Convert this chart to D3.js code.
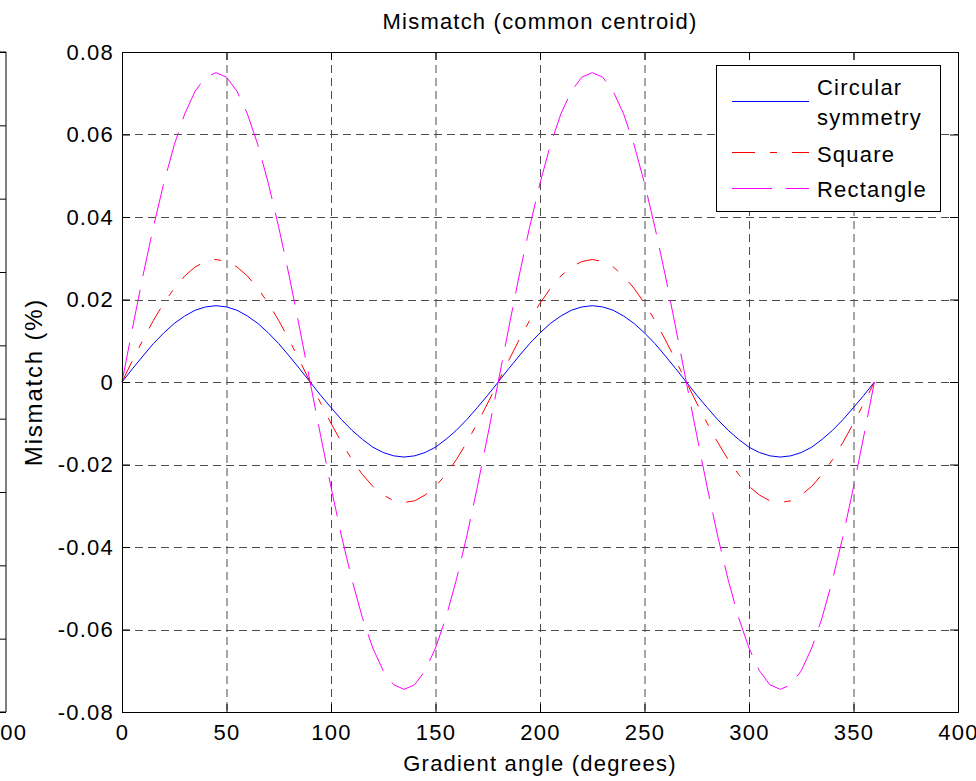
<!DOCTYPE html>
<html>
<head>
<meta charset="utf-8">
<script src="https://cdn.jsdelivr.net/npm/d3@7"></script>
<style>
  body { margin: 0; background: #fff; }
  svg { display: block; font-family: "Liberation Sans", Arial, sans-serif; }
  svg text { letter-spacing: 1.2px; }
</style>
</head>
<body>
<svg id="chart" width="976" height="781"></svg>
<script>
// gradient angle in degrees, every 5 degrees
var angles = d3.range(0, 361, 5);

// mismatch values
var circular = [
  0, .0032, .0063, .0093, .0119, .0142, .0160, .0174, .0182, .0185, .0182, .0174, .0160, .0142, .0119, .0093, .0063, .0032, 0,
  -.0032, -.0062, -.0091, -.0117, -.0139, -.0158, -.0171, -.0179, -.0182, -.0179, -.0171, -.0158, -.0139, -.0117, -.0091, -.0062, -.0032, 0,
  .0032, .0063, .0093, .0119, .0142, .0160, .0174, .0182, .0185, .0182, .0174, .0160, .0142, .0119, .0093, .0063, .0032, 0,
  -.0032, -.0062, -.0091, -.0117, -.0139, -.0158, -.0171, -.0179, -.0182, -.0179, -.0171, -.0158, -.0139, -.0117, -.0091, -.0062, -.0032, 0
];
var square = [
  0, .0052, .0102, .0149, .0191, .0227, .0257, .0279, .0292, .0297, .0292, .0279, .0257, .0227, .0191, .0149, .0102, .0052, 0,
  -.0051, -.0100, -.0146, -.0188, -.0224, -.0253, -.0274, -.0288, -.0292, -.0288, -.0274, -.0253, -.0224, -.0188, -.0146, -.0100, -.0051, 0,
  .0052, .0102, .0149, .0191, .0227, .0257, .0279, .0292, .0297, .0292, .0279, .0257, .0227, .0191, .0149, .0102, .0052, 0,
  -.0051, -.0100, -.0146, -.0188, -.0224, -.0253, -.0274, -.0288, -.0292, -.0288, -.0274, -.0253, -.0224, -.0188, -.0146, -.0100, -.0051, 0
];
var rectangle = [
  0, .0130, .0257, .0375, .0482, .0575, .0650, .0705, .0739, .0750, .0739, .0705, .0650, .0575, .0482, .0375, .0257, .0130, 0,
  -.0129, -.0255, -.0373, -.0479, -.0571, -.0645, -.0700, -.0734, -.0745, -.0734, -.0700, -.0645, -.0571, -.0479, -.0373, -.0255, -.0129, 0,
  .0130, .0257, .0375, .0482, .0575, .0650, .0705, .0739, .0750, .0739, .0705, .0650, .0575, .0482, .0375, .0257, .0130, 0,
  -.0129, -.0255, -.0373, -.0479, -.0571, -.0645, -.0700, -.0734, -.0745, -.0734, -.0700, -.0645, -.0571, -.0479, -.0373, -.0255, -.0129, 0
];

var seriesNames = ["Circular symmetry", "Square", "Rectangle"];
var xTicks = [0, 50, 100, 150, 200, 250, 300, 350, 400];
var yTicks = [-0.08, -0.06, -0.04, -0.02, 0, 0.02, 0.04, 0.06, 0.08];

var box = { left: 122, right: 958, top: 52, bottom: 712 };
var fontSize = 22;

var svg = d3.select("#chart");

var x = d3.scaleLinear().domain([0, 400]).range([box.left, box.right]);
var y = d3.scaleLinear().domain([-0.08, 0.08]).range([box.bottom, box.top]);

// piece of the neighbouring subplot at the left edge
var yLeft = d3.scaleLinear().domain([0, 9]).range([box.bottom, box.top]);
var leftAxis = svg.append("g")
  .attr("transform", "translate(6,0)")
  .call(d3.axisLeft(yLeft).tickValues(d3.range(10)).tickSize(8).tickFormat(""));
leftAxis.select(".domain").remove();
leftAxis.selectAll("line").attr("stroke", "#000");
svg.append("path")
  .attr("d", "M-2," + box.top + "H6V" + box.bottom + "H-2")
  .attr("fill", "none").attr("stroke", "#000");
svg.append("text")
  .attr("x", 7).attr("y", 740)
  .attr("text-anchor", "middle")
  .attr("font-size", fontSize)
  .text("400");

// grid
var grid = svg.append("g").attr("stroke", "#4d4d4d").attr("stroke-dasharray", "8,5");
grid.selectAll(".gx")
  .data(xTicks.slice(1, -1))
  .enter().append("line")
  .attr("x1", function (d) { return x(d) + 0.5; })
  .attr("x2", function (d) { return x(d) + 0.5; })
  .attr("y1", box.top).attr("y2", box.bottom);
grid.selectAll(".gy")
  .data(yTicks.slice(1, -1))
  .enter().append("line")
  .attr("y1", function (d) { return Math.round(y(d)) + 0.5; })
  .attr("y2", function (d) { return Math.round(y(d)) + 0.5; })
  .attr("x1", box.left).attr("x2", box.right);

// curves
var styles = [
  { data: circular, color: "#0000ff", dash: null },
  { data: square, color: "#ff0000", dash: "23,15,7,15" },
  { data: rectangle, color: "#ff00ff", dash: "40,14" }
];

var line = d3.line()
  .x(function (d, i) { return x(angles[i]); })
  .y(function (d) { return y(d); });

styles.forEach(function (s) {
  svg.append("path")
    .datum(s.data)
    .attr("d", line)
    .attr("fill", "none")
    .attr("stroke", s.color)
    .attr("stroke-width", 1)
    .attr("stroke-dasharray", s.dash);
});

// axes
function tidy(g) {
  g.select(".domain").remove();
  g.selectAll("line").attr("stroke", "#000");
  g.selectAll("text").attr("font-size", fontSize).attr("fill", "#000")
    .attr("font-family", "Liberation Sans, Arial, sans-serif");
}

svg.append("g")
  .attr("transform", "translate(0," + box.bottom + ")")
  .call(d3.axisBottom(x).tickValues(xTicks).tickSize(-8).tickPadding(12).tickFormat(d3.format("d")))
  .call(tidy);

svg.append("g")
  .attr("transform", "translate(0," + box.top + ")")
  .call(d3.axisTop(x).tickValues(xTicks).tickSize(-8).tickFormat(""))
  .call(tidy);

svg.append("g")
  .attr("transform", "translate(" + box.left + ",0)")
  .call(d3.axisLeft(y).tickValues(yTicks).tickSize(-8).tickPadding(8)
    .tickFormat(function (d) { return d === 0 ? "0" : d.toFixed(2); }))
  .call(tidy);

svg.append("g")
  .attr("transform", "translate(" + box.right + ",0)")
  .call(d3.axisRight(y).tickValues(yTicks).tickSize(-8).tickFormat(""))
  .call(tidy);

svg.append("rect")
  .attr("x", box.left + 0.5).attr("y", box.top + 0.5)
  .attr("width", box.right - box.left).attr("height", box.bottom - box.top)
  .attr("fill", "none").attr("stroke", "#000");

// titles
svg.append("text")
  .attr("x", (box.left + box.right) / 2).attr("y", 29)
  .attr("text-anchor", "middle").attr("font-size", fontSize)
  .text("Mismatch (common centroid)");

svg.append("text")
  .attr("x", (box.left + box.right) / 2).attr("y", 771)
  .attr("text-anchor", "middle").attr("font-size", fontSize)
  .text("Gradient angle (degrees)");

svg.append("text")
  .attr("transform", "translate(42," + (box.top + box.bottom) / 2 + ") rotate(-90)")
  .attr("text-anchor", "middle").attr("font-size", 24)
  .style("letter-spacing", "1.8px")
  .text("Mismatch (%)");

// legend
var legend = svg.append("g");
legend.append("rect")
  .attr("x", 716.5).attr("y", 65.5).attr("width", 224).attr("height", 146)
  .attr("fill", "#fff").attr("stroke", "#000");

var legendRows = [
  { lineY: 101, textY: [95, 125], lines: ["Circular", "symmetry"] },
  { lineY: 152, textY: [162], lines: [seriesNames[1]] },
  { lineY: 188, textY: [197], lines: [seriesNames[2]] }
];

legendRows.forEach(function (r, i) {
  legend.append("line")
    .attr("x1", 732).attr("x2", 809)
    .attr("y1", r.lineY + 0.5).attr("y2", r.lineY + 0.5)
    .attr("stroke", styles[i].color)
    .attr("stroke-dasharray", styles[i].dash);
  r.lines.forEach(function (t, j) {
    legend.append("text")
      .attr("x", 817).attr("y", r.textY[j])
      .attr("font-size", fontSize)
      .text(t);
  });
});
</script>
</body>
</html>
